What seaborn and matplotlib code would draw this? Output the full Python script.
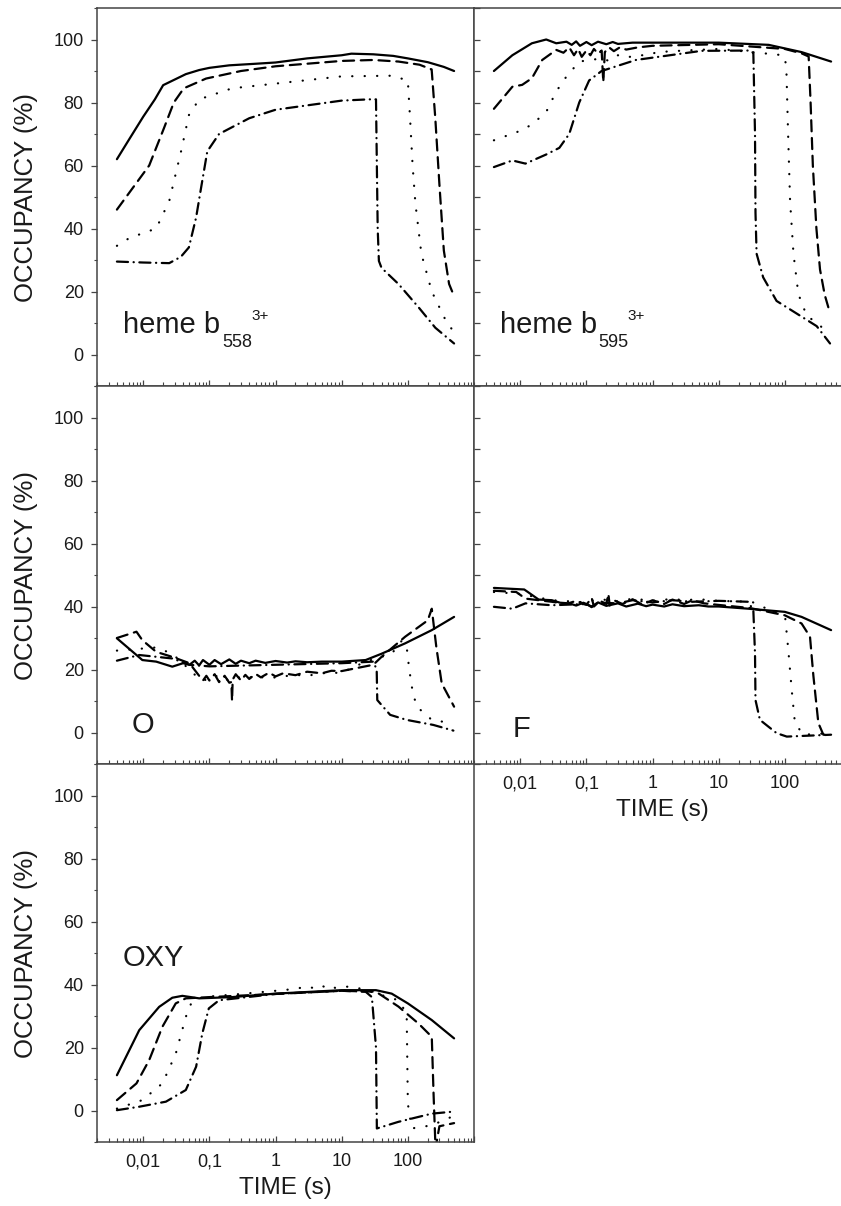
import matplotlib
matplotlib.use("Agg")
import matplotlib.pyplot as plt
import seaborn as sns
from matplotlib.ticker import LogLocator, MultipleLocator, FuncFormatter, NullFormatter

sns.set_style("ticks")
plt.rcParams["font.family"] = ["Liberation Sans", "DejaVu Sans"]

# ---- Panel heme b558 3+ (top left) ----
b558_solid_t = [0.004, 0.006, 0.01, 0.015, 0.02, 0.03, 0.044, 0.07, 0.1, 0.2, 0.5, 1, 3, 10, 14, 30, 60, 100, 200, 350, 500]
b558_solid_y = [62, 68, 75.5, 81, 85.5, 87.3, 89, 90.3, 91, 91.8, 92.3, 92.7, 94, 95, 95.5, 95.3, 94.8, 94, 92.8, 91.3, 90]
b558_dash_t = [0.004, 0.0123, 0.0207, 0.029, 0.041, 0.089, 0.3, 1, 10, 30, 72, 150, 229, 260, 300, 350, 420, 500]
b558_dash_y = [46, 60, 72, 80, 84.5, 87.6, 90, 91.5, 93.2, 93.5, 93, 92, 90.5, 75, 54, 33, 22.4, 18.5]
b558_dot_t = [0.004, 0.0062, 0.0157, 0.0247, 0.0373, 0.049, 0.07, 0.22, 1, 10, 57, 100, 108, 118, 130, 160, 230, 370, 500]
b558_dot_y = [34.5, 37, 40, 48.7, 64.5, 76, 81, 84.5, 86, 88.3, 88.5, 87, 75, 60, 48, 32, 20, 11, 7]
b558_dd_t = [0.004, 0.01, 0.0247, 0.037, 0.049, 0.063, 0.075, 0.093, 0.14, 0.4, 1, 10, 26, 33, 34, 35, 36.5, 40, 72, 145, 260, 500]
b558_dd_y = [29.5, 29.2, 29, 31, 34, 43.5, 53, 64.5, 70, 75, 77.7, 80.6, 81, 81, 60, 40, 29.7, 27.5, 22.4, 15, 8.5, 3.5]

# ---- Panel heme b595 3+ (top right) ----
b595_solid_t = [0.004, 0.0076, 0.015, 0.0247, 0.035, 0.05, 0.06, 0.07, 0.08, 0.1, 0.12, 0.15, 0.2, 0.25, 0.3, 0.5, 1, 10, 57, 179, 500]
b595_solid_y = [90, 95, 98.8, 100, 98.8, 99.3, 98.3, 99.4, 98, 99.2, 98.2, 99.3, 98.5, 99.2, 98.6, 99, 99, 99, 98.3, 96, 93]
b595_dash_t = [0.004, 0.0076, 0.0107, 0.015, 0.0215, 0.035, 0.045, 0.055, 0.065, 0.075, 0.085, 0.1, 0.115, 0.13,
               0.15, 0.17, 0.18, 0.19, 0.22, 0.26, 0.32, 0.4, 0.6, 1, 10, 100, 179, 229, 245, 265, 300, 340, 400, 454]
b595_dash_y = [78, 85, 85.6, 87.7, 93.5, 96.7, 95.8, 97.5, 95, 97, 94.5, 96.5, 95, 97,
               95.5, 96.5, 86.5, 96, 97.5, 96.3, 97.5, 96.8, 97.5, 98, 98.5, 97, 95.6, 94.6, 80, 60, 40, 27, 19, 15]
b595_dot_t = [0.004, 0.01, 0.015, 0.0247, 0.035, 0.049, 0.078, 0.17, 0.22, 0.3, 0.4, 0.56, 0.8, 1.2, 3, 10, 31.6,
              95, 105, 112, 120, 135, 160, 214, 321, 454]
b595_dot_y = [68, 71, 73, 77, 83.5, 88, 93, 94, 93.2, 95, 94.2, 95, 95, 96, 96.5, 97, 96,
              95, 92, 70, 48.7, 32, 19.2, 12.3, 9.7, 6.6]
b595_dd_t = [0.004, 0.0076, 0.012, 0.0247, 0.039, 0.055, 0.078, 0.11, 0.17, 0.56, 5.5, 30, 33.4, 35.4, 36, 37.4, 47, 75, 151, 303, 482]
b595_dd_y = [59.5, 61.6, 60.6, 63.5, 65.6, 70, 80, 87, 90, 93.5, 96.4, 96.5, 95.7, 70, 45, 32, 24.5, 17, 13, 9, 3.5]

# ---- Panel O (middle left) ----
o_solid_t = [0.004, 0.0097, 0.0157, 0.0275, 0.04, 0.05, 0.06, 0.07, 0.08, 0.1, 0.12, 0.15, 0.2, 0.25, 0.3, 0.4,
             0.5, 0.7, 1, 1.5, 2, 3, 5, 10, 23, 40, 91, 230, 500]
o_solid_y = [29.9, 23, 22.5, 20.9, 22, 21.5, 22.8, 21.3, 23, 21.5, 23, 21.7, 23.2, 21.8, 22.8, 22,
             22.8, 22.1, 22.7, 22.2, 22.6, 22.3, 22.5, 22.5, 23, 25, 28.3, 32.5, 36.7]
o_dash_t = [0.004, 0.0079, 0.0097, 0.0157, 0.0275, 0.05, 0.07, 0.08, 0.09, 0.1, 0.12, 0.14, 0.17, 0.2, 0.215, 0.22,
            0.225, 0.25, 0.3, 0.35, 0.4, 0.5, 0.6, 0.8, 1, 1.3, 2, 3, 5, 7, 10, 30, 40, 91, 200, 230, 270, 325, 500]
o_dash_y = [30, 32, 29.3, 25.6, 24, 22, 18, 16.5, 18, 16.5, 18.5, 16, 18, 15.8, 16, 10,
            16.8, 18.5, 16.5, 18.3, 17, 18.6, 17.5, 19, 17.8, 18.8, 18.2, 19.3, 18.8, 19.6, 19.5, 21.5, 24, 30.4, 35.6, 39.3, 27, 15.6, 8.2]
o_dot_t = [0.004, 0.0157, 0.0275, 0.05, 0.07, 0.1, 0.13, 0.17, 0.25, 0.35, 0.5, 0.7, 1, 2, 3, 5, 10, 23, 57,
           80, 95, 105, 120, 140, 230, 450]
o_dot_y = [26, 27, 25, 20, 17, 16.5, 18, 16.5, 17.8, 16.8, 18.2, 17.2, 17.5, 18.3, 18, 18.8, 19, 22.5, 25,
           29, 28, 20, 12, 8, 4, 3]
o_dd_t = [0.004, 0.0087, 0.0275, 0.05, 0.1, 1, 10, 30, 33.8, 34.5, 54, 96, 243, 488]
o_dd_y = [22.8, 24.6, 23.5, 21.5, 21, 21.5, 22, 22.5, 20, 10.3, 5.6, 4, 2.4, 0.6]

# ---- Panel F (middle right) ----
f_solid_t = [0.004, 0.0115, 0.019, 0.03, 0.04, 0.055, 0.07, 0.09, 0.12, 0.15, 0.2, 0.3, 0.4, 0.6, 0.8, 1,
             1.5, 2, 3, 5, 7, 10, 28, 100, 179, 500]
f_solid_y = [45.9, 45.4, 42.2, 42, 41.2, 41, 40.3, 41.2, 40, 41.3, 40.2, 41, 40, 40.9, 40.1, 40.6,
             40, 40.7, 40.1, 40.4, 40, 40, 39.3, 38.3, 36.7, 32.5]
f_dash_t = [0.004, 0.0087, 0.012, 0.03, 0.05, 0.07, 0.1, 0.12, 0.13, 0.16, 0.2, 0.215, 0.225, 0.26, 0.35, 0.5,
            0.7, 1, 1.5, 2, 3, 4, 6, 10, 30, 100, 179, 240, 270, 321, 382, 500]
f_dash_y = [45, 44.6, 42.5, 41.5, 40.8, 41.8, 40.5, 42.8, 40, 41.8, 40.8, 44, 40.3, 42, 40.8, 42.3,
            40.6, 42, 40.8, 42.2, 40.8, 42, 41, 40.5, 39.5, 37.2, 34.6, 30.4, 18, 3, -0.7, -0.7]
f_dot_t = [0.004, 0.01, 0.03, 0.1, 0.15, 0.3, 0.5, 1, 2, 3, 5, 10, 31.6, 60, 101, 113, 127, 142, 190, 500]
f_dot_y = [44.6, 44, 42, 41.3, 42.4, 41.6, 42.5, 41.8, 42.4, 42, 42.3, 41.8, 41.5, 38.8, 36.7, 26, 13.5, 3, -0.7, -0.2]
f_dd_t = [0.004, 0.0076, 0.012, 0.03, 0.1, 0.12, 0.15, 0.3, 0.5, 1, 2, 4, 10, 28, 33.4, 35.4, 36, 42, 75, 107, 500]
f_dd_y = [39.9, 39.3, 41, 40.4, 40.8, 39.8, 41.2, 41, 42, 41.3, 42, 41.5, 41.8, 41.5, 38.8, 25, 10.3, 4, -0.2, -1.3, -0.7]

# ---- Panel OXY (bottom left) ----
oxy_solid_t = [0.004, 0.0087, 0.0174, 0.0275, 0.039, 0.07, 0.22, 1, 10, 33, 57, 100, 230, 500]
oxy_solid_y = [11.2, 25.5, 32.9, 35.8, 36.4, 35.6, 36, 37.1, 38.2, 38.2, 37.1, 34, 28.7, 22.9]
oxy_dash_t = [0.004, 0.0079, 0.0123, 0.0195, 0.031, 0.044, 0.1, 1, 10, 33, 72, 145, 230, 245, 262, 300, 500]
oxy_dash_y = [3.3, 8.6, 16, 26.6, 34, 35.6, 36, 37, 38, 37.7, 33, 27.6, 23.4, 5, -12, -5, -4]
oxy_dot_t = [0.004, 0.0097, 0.0195, 0.031, 0.044, 0.053, 0.078, 0.3, 1, 2, 3, 4, 5, 6, 7, 8, 10, 15, 23,
             72, 96, 100, 114, 230, 460]
oxy_dot_y = [0.6, 3.3, 8.6, 18, 29.7, 34, 36, 37, 38, 38.6, 39.4, 38.7, 39.6, 38.9, 39.5, 38.9, 39.3, 39.3, 38.2,
             35, 30.8, 2.2, -5.7, -4.7, -2]
oxy_dd_t = [0.004, 0.0087, 0.022, 0.044, 0.063, 0.078, 0.098, 0.14, 1, 10, 23, 28.6, 33, 34, 72, 230, 460]
oxy_dd_y = [0.1, 1.2, 2.8, 6.5, 13.9, 24.4, 32.4, 35, 37, 38, 37.7, 36, 20, -5.7, -3.6, -1, -0.4]

tick_pos = [0.01, 0.1, 1, 10, 100]
tick_text = ["0,01", "0,1", "1", "10", "100"]

SOLID = "-"
DASH = (0, (5, 3))
DOT = (0, (0.1, 5.5))
DASHDOT = (0, (5, 2.5, 0.1, 2.5))

ink = "#1a1a1a"
frame = "#444444"

fig = plt.figure(figsize=(8.41, 12.06), dpi=100)
W, H = 841.0, 1206.0

def make_ax(x0, y0, x1, y1):
    return fig.add_axes([x0 / W, (H - y1) / H, (x1 - x0) / W, (y1 - y0) / H])

ax_b558 = make_ax(97, 8, 474, 386)
ax_b595 = make_ax(474, 8, 851, 386)
ax_o = make_ax(97, 386, 474, 764)
ax_f = make_ax(474, 386, 851, 764)
ax_oxy = make_ax(97, 764, 474, 1142)

def xfmt(v, pos):
    for p, s in zip(tick_pos, tick_text):
        if abs(v - p) / p < 1e-6:
            return s
    return ""

def style_ax(ax, left_col, xlabels):
    ax.set_xscale("log")
    ax.set_xlim(0.002, 1000)
    ax.set_ylim(-10, 110)
    ax.xaxis.set_major_locator(LogLocator(base=10, numticks=20))
    ax.xaxis.set_minor_locator(LogLocator(base=10, subs=range(2, 10), numticks=20))
    ax.xaxis.set_minor_formatter(NullFormatter())
    ax.yaxis.set_major_locator(MultipleLocator(20))
    ax.yaxis.set_minor_locator(MultipleLocator(10))
    for sp in ax.spines.values():
        sp.set_color(frame)
        sp.set_linewidth(1.1)
    ax.tick_params(axis="x", which="major", direction="in", length=4.5, width=0.9,
                   color=frame, top=False, labelsize=13, labelcolor=ink, pad=8)
    ax.tick_params(axis="x", which="minor", direction="in", length=2.8, width=0.8,
                   color=frame, top=False)
    if xlabels:
        ax.xaxis.set_major_formatter(FuncFormatter(xfmt))
        ax.set_xlabel("TIME (s)", fontsize=17.5, color=ink)
        ax.xaxis.set_label_coords(0.5, -0.092)
    else:
        ax.xaxis.set_major_formatter(NullFormatter())
        ax.set_xlabel("")
    if left_col:
        ax.tick_params(axis="y", which="major", direction="out", length=4.5, width=0.9,
                       color=frame, labelsize=13, labelcolor=ink, pad=5)
        ax.tick_params(axis="y", which="minor", direction="out", length=2.5, width=0.8, color=frame)
        ax.set_ylabel("OCCUPANCY (%)", fontsize=18.5, color=ink)
        ax.yaxis.set_label_coords(-0.157, 0.5)
    else:
        ax.tick_params(axis="y", which="both", direction="in", length=4, width=0.9,
                       color=frame, labelleft=False)
        ax.set_ylabel("")

def draw_curves(ax, curves):
    for t, y, ls in curves:
        sns.lineplot(x=t, y=y, ax=ax, color="black", linestyle=ls, linewidth=1.6,
                     sort=False, estimator=None, errorbar=None,
                     dash_capstyle="round", solid_capstyle="round")

draw_curves(ax_b558, [(b558_solid_t, b558_solid_y, SOLID), (b558_dash_t, b558_dash_y, DASH),
                      (b558_dot_t, b558_dot_y, DOT), (b558_dd_t, b558_dd_y, DASHDOT)])
draw_curves(ax_b595, [(b595_solid_t, b595_solid_y, SOLID), (b595_dash_t, b595_dash_y, DASH),
                      (b595_dot_t, b595_dot_y, DOT), (b595_dd_t, b595_dd_y, DASHDOT)])
draw_curves(ax_o, [(o_solid_t, o_solid_y, SOLID), (o_dash_t, o_dash_y, DASH),
                   (o_dot_t, o_dot_y, DOT), (o_dd_t, o_dd_y, DASHDOT)])
draw_curves(ax_f, [(f_solid_t, f_solid_y, SOLID), (f_dash_t, f_dash_y, DASH),
                   (f_dot_t, f_dot_y, DOT), (f_dd_t, f_dd_y, DASHDOT)])
draw_curves(ax_oxy, [(oxy_solid_t, oxy_solid_y, SOLID), (oxy_dash_t, oxy_dash_y, DASH),
                     (oxy_dot_t, oxy_dot_y, DOT), (oxy_dd_t, oxy_dd_y, DASHDOT)])

style_ax(ax_b558, True, False)
style_ax(ax_b595, False, False)
style_ax(ax_o, True, False)
style_ax(ax_f, False, True)
style_ax(ax_oxy, True, True)

# panel labels
def heme_label(ax, sub, x_sub, x_sup):
    ax.text(0.069, 0.14, "heme b", transform=ax.transAxes, fontsize=21, color=ink, va="baseline")
    ax.text(x_sub, 0.103, sub, transform=ax.transAxes, fontsize=13, color=ink, va="baseline")
    ax.text(x_sup, 0.175, "3+", transform=ax.transAxes, fontsize=11, color=ink, va="baseline")

heme_label(ax_b558, "558", 0.332, 0.41)
heme_label(ax_b595, "595", 0.329, 0.406)
ax_o.text(0.093, 0.082, "O", transform=ax_o.transAxes, fontsize=21, color=ink, va="baseline")
ax_f.text(0.103, 0.072, "F", transform=ax_f.transAxes, fontsize=21, color=ink, va="baseline")
ax_oxy.text(0.069, 0.466, "OXY", transform=ax_oxy.transAxes, fontsize=21, color=ink, va="baseline")

fig.savefig("out.png", dpi=100, facecolor="white")
